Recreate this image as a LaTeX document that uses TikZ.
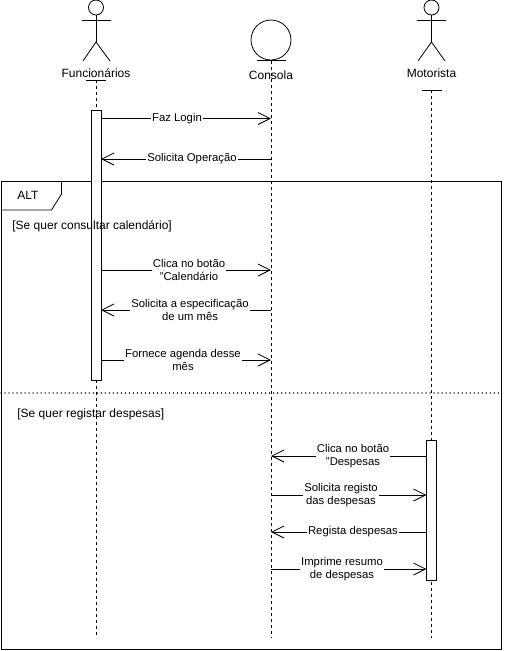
\documentclass[tikz,border=0pt]{standalone}
\usepackage{fontspec}
\setmainfont{Liberation Sans}
\usetikzlibrary{arrows.meta}

\begin{document}
\begin{tikzpicture}[x=1pt,y=-1pt,line width=0.8pt,
  txt/.style={font=\fontsize{12}{14}\selectfont,inner sep=0pt},
  lbl/.style={font=\fontsize{11.3}{13}\selectfont,fill=white,inner xsep=1pt,inner ysep=0.5pt,align=center},
  msg/.style={-{Straight Barb[length=12pt,width=12pt,line width=0.8pt]}},
  life/.style={dash pattern=on 3pt off 3pt,line width=0.8pt},
  actbox/.style={draw,fill=white,minimum width=10pt,inner sep=0pt},
  sep/.style={line width=1.2pt,dash pattern=on 0.01pt off 4pt,line cap=round}]

\useasboundingbox (0,0) rectangle (506,651);

% ---- Funcionarios (actor) ----
\draw (96,7.5) circle (7.5);
\draw (96,15) -- (96,42) (82,20) -- (111,20);
\draw (83,61) -- (96,42) -- (110,61);
\node[txt] (fun) at (96,73) {Funcionários};
\draw (86,80) -- (106,80);
\coordinate (funtop) at (96,80);
\coordinate (funend) at (96,638);

% ---- Consola (boundary/entity circle) ----
\draw (271,40) circle (20);
\draw (257,60.5) -- (286,60.5);
\node[txt] (con) at (271,75) {Consola};
\coordinate (contop) at (271,60.5);
\coordinate (conend) at (271,638);

% ---- Motorista (actor) ----
\draw (431.5,7.5) circle (7.5);
\draw (431.5,15) -- (431.5,42) (417,20) -- (446,20);
\draw (418,61) -- (431.5,42) -- (445,61);
\node[txt] (mot) at (431.5,73) {Motorista};
\draw (421.5,90) -- (441.5,90);
\coordinate (mottop) at (431.5,90);
\coordinate (motend) at (431.5,638);

% ---- lifelines ----
\draw[life] (funtop) -- (funend);
\draw[life] (contop) -- (conend);
\draw[life] (mottop) -- (motend);

% ---- combined fragment ----
\draw (1,181) rectangle (501.5,649);
\draw (1,210) -- (51.5,210) -- (61.5,194) -- (61.5,181);
\node[txt] (alt) at (28,195) {ALT};
\draw[sep] (1,393) -- (501.5,393);

% ---- activation bars ----
\node[actbox,minimum height=270pt] (actf) at (96,245) {};
\node[actbox,minimum height=140pt] (actm) at (431.5,510.5) {};

% ---- guards (set over the bars) ----
\node[txt,anchor=west] (g1) at (12,226) {[Se quer consultar calendário]};
\node[txt,anchor=west] (g2) at (17,414) {[Se quer registar despesas]};

% ---- message end points ----
\coordinate (f1) at (101,118.5);  \coordinate (c1) at (271,118.5);
\coordinate (f2) at (101,159);    \coordinate (c2) at (271,159);
\coordinate (f3) at (101,270);    \coordinate (c3) at (271,270);
\coordinate (f4) at (101,310);    \coordinate (c4) at (271,310);
\coordinate (f5) at (101,360);    \coordinate (c5) at (271,360);
\coordinate (m6) at (426.5,456);  \coordinate (c6) at (271,456);
\coordinate (m7) at (426.5,495);  \coordinate (c7) at (271,495);
\coordinate (m8) at (426.5,532);  \coordinate (c8) at (271,532);
\coordinate (m9) at (426.5,569);  \coordinate (c9) at (271,569);

% ---- messages ----
\draw[msg] (f1) -- (c1);
\node[lbl] at (177,118.5) {Faz Login};
\draw[msg] (c2) -- (f2);
\node[lbl] at (192,159) {Solicita Operação};
\draw[msg] (f3) -- (c3);
\node[lbl] at (189,270) {Clica no botão\\"Calendário};
\draw[msg] (c4) -- (f4);
\node[lbl] at (190,310) {Solicita a especificação\\de um mês};
\draw[msg] (f5) -- (c5);
\node[lbl] at (183,360) {Fornece agenda desse\\mês};
\draw[msg] (m6) -- (c6);
\node[lbl] at (353,456) {Clica no botão\\"Despesas};
\draw[msg] (c7) -- (m7);
\node[lbl] at (341,495) {Solicita registo\\das despesas};
\draw[msg] (m8) -- (c8);
\node[lbl] at (353,532) {Regista despesas};
\draw[msg] (c9) -- (m9);
\node[lbl] at (342,569) {Imprime resumo\\de despesas};

\end{tikzpicture}
\end{document}
